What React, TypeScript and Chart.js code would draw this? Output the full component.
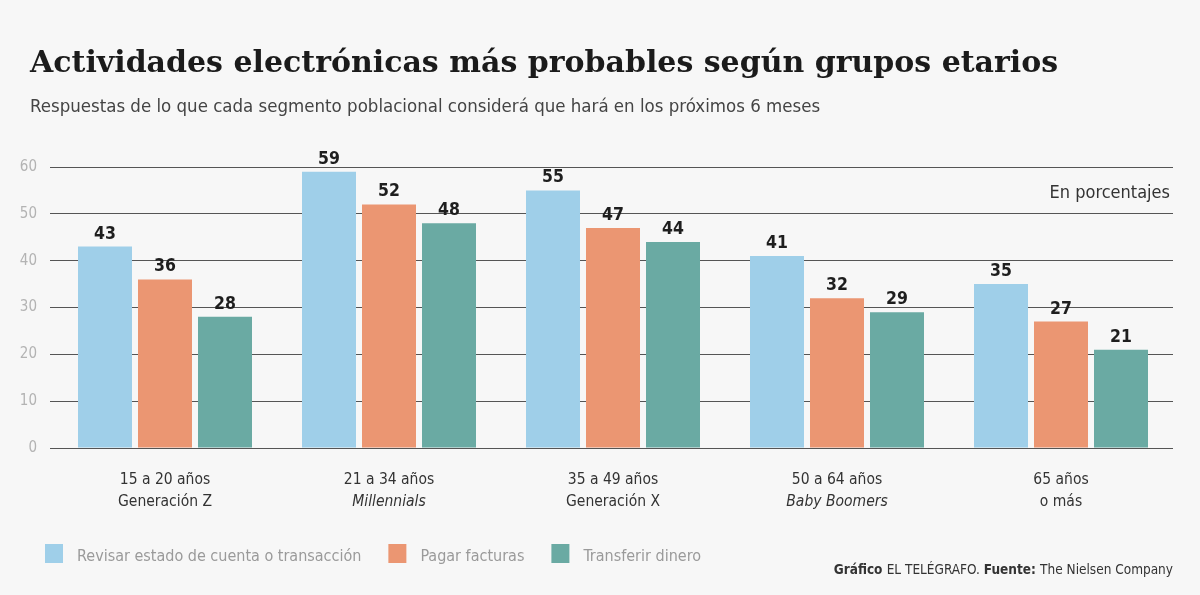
import { useEffect, useRef } from 'react';
import { Chart, registerables } from 'chart.js';

Chart.register(...registerables);

// Age groups: first line is the age range, second line the generation name
const ageRanges = ['15 a 20 años', '21 a 34 años', '35 a 49 años', '50 a 64 años', '65 años'];
const generationNames = ['Generación Z', 'Millennials', 'Generación X', 'Baby Boomers', 'o más'];
const generationItalic = [false, true, false, true, false];

const seriesNames = ['Revisar estado de cuenta o transacción', 'Pagar facturas', 'Transferir dinero'];
const revisarValues = [43, 59, 55, 41, 35];
const pagarValues = [36, 52, 47, 32, 27];
const transferirValues = [28, 48, 44, 29, 21];
const seriesColors = ['#9fcfe9', '#eb9672', '#6aaaa3'];

const yMin = 0;
const yMax = 60;
const yStep = 10;

const titleText = 'Actividades electrónicas más probables según grupos etarios';
const subtitleText = 'Respuestas de lo que cada segmento poblacional considerá que hará en los próximos 6 meses';
const unitText = 'En porcentajes';
const footerParts: [string, boolean][] = [
  ['Gráfico ', true],
  ['EL TELÉGRAFO. ', false],
  ['Fuente: ', true],
  ['The Nielsen Company', false],
];

const SANS = '"Liberation Sans Narrow", "DejaVu Sans Condensed", Roboto, sans-serif';
const SERIF = '"DejaVu Serif", "Liberation Serif", serif';
const BG = '#f7f7f7';

const decorPlugin = {
  id: 'decor',
  beforeDraw(chart: any) {
    const { ctx, width, height } = chart;
    ctx.save();
    ctx.fillStyle = BG;
    ctx.fillRect(0, 0, width, height);

    ctx.textAlign = 'left';
    ctx.textBaseline = 'alphabetic';
    ctx.fillStyle = '#1b1b1b';
    ctx.font = `bold 30px ${SERIF}`;
    ctx.fillText(titleText, 30, 72);

    ctx.fillStyle = '#444';
    ctx.font = `18.5px ${SANS}`;
    ctx.fillText(subtitleText, 30, 112);
    ctx.restore();
  },
  afterDraw(chart: any) {
    const { ctx, chartArea } = chart;
    const xScale = chart.scales.x;
    ctx.save();

    // unit note in the upper right of the plot
    ctx.fillStyle = '#333';
    ctx.font = `18px ${SANS}`;
    ctx.textAlign = 'right';
    ctx.textBaseline = 'alphabetic';
    ctx.fillText(unitText, chartArea.right - 3, 198);

    // value labels above each bar
    ctx.fillStyle = '#1e1e1e';
    ctx.font = `bold 17.5px ${SANS}`;
    ctx.textAlign = 'center';
    chart.data.datasets.forEach((_: any, di: number) => {
      const meta = chart.getDatasetMeta(di);
      meta.data.forEach((bar: any, i: number) => {
        const v = chart.data.datasets[di].data[i];
        ctx.fillText(String(v), bar.x, bar.y - 8);
      });
    });

    // two-line category labels
    ctx.fillStyle = '#333';
    ageRanges.forEach((label, i) => {
      const x = xScale.getPixelForValue(i);
      ctx.font = `15.5px ${SANS}`;
      ctx.fillText(label, x, chartArea.bottom + 36);
      ctx.font = `${generationItalic[i] ? 'italic ' : ''}15.5px ${SANS}`;
      ctx.fillText(generationNames[i], x, chartArea.bottom + 58);
    });

    // legend
    let lx = 45;
    ctx.textAlign = 'left';
    ctx.font = `16px ${SANS}`;
    seriesNames.forEach((name, i) => {
      ctx.fillStyle = seriesColors[i];
      ctx.fillRect(lx, 544, 18, 19);
      ctx.fillStyle = '#9a9a9a';
      ctx.fillText(name, lx + 32, 561);
      lx += 32 + ctx.measureText(name).width + 27;
    });

    // source line, right aligned
    ctx.fillStyle = '#333';
    let total = 0;
    footerParts.forEach(([t, b]) => {
      ctx.font = `${b ? 'bold ' : ''}13.5px ${SANS}`;
      total += ctx.measureText(t).width;
    });
    let fx = chartArea.right - total;
    footerParts.forEach(([t, b]) => {
      ctx.font = `${b ? 'bold ' : ''}13.5px ${SANS}`;
      ctx.fillText(t, fx, 574);
      fx += ctx.measureText(t).width;
    });
    ctx.restore();
  },
};

export default function App() {
  const canvasRef = useRef<HTMLCanvasElement | null>(null);

  useEffect(() => {
    if (!canvasRef.current) return;
    const values = [revisarValues, pagarValues, transferirValues];
    const chart = new Chart(canvasRef.current, {
      type: 'bar',
      data: {
        labels: ageRanges,
        datasets: seriesNames.map((name, i) => ({
          label: name,
          data: values[i],
          backgroundColor: seriesColors[i],
          borderWidth: 0,
          barPercentage: 0.9,
          categoryPercentage: 0.8036,
        })),
      },
      options: {
        responsive: false,
        animation: false,
        devicePixelRatio: 1,
        layout: { padding: { left: 0, right: 27, top: 167, bottom: 147 } },
        plugins: {
          legend: { display: false },
          title: { display: false },
          tooltip: { enabled: false },
        },
        scales: {
          x: {
            grid: { display: false },
            border: { display: false },
            ticks: { display: false },
            afterFit: (scale: any) => {
              scale.height = 0;
            },
          },
          y: {
            min: yMin,
            max: yMax,
            z: 1,
            afterFit: (scale: any) => {
              scale.width = 53;
            },
            border: { display: false },
            grid: {
              color: '#555',
              lineWidth: 1,
              drawTicks: true,
              tickLength: 3,
              tickColor: '#555',
            },
            ticks: {
              stepSize: yStep,
              padding: 13,
              color: '#b3b3b3',
              font: { family: SANS, size: 15 },
            },
          },
        },
      },
      plugins: [decorPlugin],
    });
    return () => chart.destroy();
  }, []);

  return (
    <div style={{ position: 'fixed', left: 0, top: 0, width: 1200, height: 595, background: BG }}>
      <canvas ref={canvasRef} width={1200} height={595} style={{ display: 'block' }} />
    </div>
  );
}
